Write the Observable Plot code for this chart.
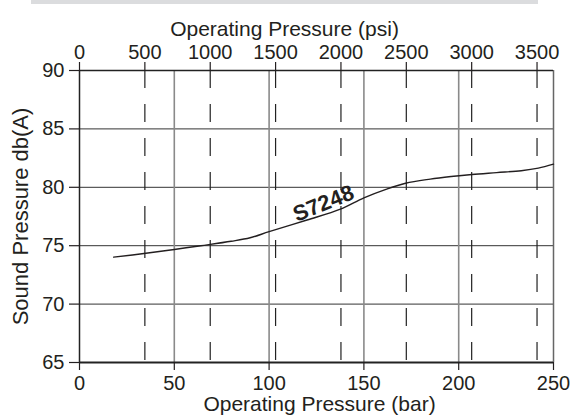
<!DOCTYPE html>
<html>
<head>
<meta charset="utf-8">
<script src="https://cdn.jsdelivr.net/npm/d3@7"></script>
<script src="https://cdn.jsdelivr.net/npm/@observablehq/plot@0.6"></script>
<style>
  html, body { margin: 0; padding: 0; background: #fff; }
  #wrap { position: relative; width: 578px; height: 418px; }
  #band { position: absolute; top: 0; left: 31px; width: 507px; height: 4px; background: #dbdcde; }
</style>
</head>
<body>
<div id="wrap"><div id="band"></div></div>
<script>
// ---- data ----
const barTicks = [0, 50, 100, 150, 200, 250];
const psiTicks = [0, 500, 1000, 1500, 2000, 2500, 3000, 3500];
const dbTicks = [65, 70, 75, 80, 85, 90];
const PSI_TO_BAR = 0.0689476;

const curveBar = [18, 35, 50, 64, 80, 90, 100, 120, 137.6, 150, 162, 172, 185, 196, 207, 220, 233, 242, 250];
const curveDb  = [74.02, 74.35, 74.68, 75.0, 75.38, 75.68, 76.2, 77.2, 78.13, 79.1, 79.85, 80.35, 80.7, 80.92, 81.1, 81.26, 81.42, 81.64, 81.98];

const seriesName = "S7248";
const labelBar = 128.7;
const labelDb = 78.6;

const xTitleBottom = "Operating Pressure (bar)";
const xTitleTop = "Operating Pressure (psi)";
const yTitle = "Sound Pressure db(A)";

// ---- build ----
const curve = curveBar.map((b, i) => ({bar: b, db: curveDb[i]}));
const psiInBar = psiTicks.map(p => p * PSI_TO_BAR);
const ink = "#231f20";

const chart = Plot.plot({
  width: 578,
  height: 418,
  marginLeft: 79,
  marginRight: 25,
  marginTop: 70,
  marginBottom: 56,
  x: {domain: [0, 250]},
  y: {domain: [65, 90]},
  style: {fontFamily: "'Liberation Sans', Arial, sans-serif", fontSize: "20px", color: ink, background: "transparent"},
  marks: [
    // horizontal grid
    Plot.ruleY(dbTicks.slice(1, -1), {stroke: "#333", strokeWidth: 1}),
    // solid vertical grid (bar)
    Plot.ruleX(barTicks.slice(1, -1), {stroke: "#8a8a8a", strokeWidth: 1.6}),
    // dashed vertical grid (psi)
    Plot.ruleX(psiInBar.slice(1), {y1: 90, y2: 65, stroke: "#222", strokeWidth: 1.2, strokeDasharray: "18,16"}),
    // frame
    Plot.ruleX([250], {y1: 90, y2: 65, stroke: "#666", strokeWidth: 1.5}),
    Plot.ruleX([0], {y1: 90, y2: 65, stroke: "#222", strokeWidth: 1.5}),
    Plot.ruleY([90], {x1: 0, x2: 250, stroke: "#222", strokeWidth: 1.5}),
    Plot.ruleY([65], {x1: 0, x2: 250, stroke: "#222", strokeWidth: 2}),
    // axes
    Plot.axisX({anchor: "bottom", ticks: barTicks, tickSize: 8, tickPadding: 5, label: null, fontSize: 20, stroke: ink, strokeWidth: 1.2}),
    Plot.axisX({anchor: "top", ticks: psiInBar, tickFormat: d => String(Math.round(d / PSI_TO_BAR / 100) * 100), tickSize: 9, tickPadding: 3, label: null, fontSize: 20, stroke: ink, strokeWidth: 1.2}),
    Plot.axisY({ticks: dbTicks, tickSize: 10, tickPadding: 5, label: null, fontSize: 20, stroke: ink, strokeWidth: 1.2}),
    // titles
    Plot.text([xTitleTop], {text: d => d, frameAnchor: "top", lineAnchor: "bottom", dy: -35, dx: -32, fontSize: 21, fill: ink}),
    Plot.text([xTitleBottom], {text: d => d, frameAnchor: "bottom", lineAnchor: "bottom", dy: 48, dx: 3, fontSize: 21, fill: ink}),
    Plot.text([yTitle], {text: d => d, frameAnchor: "left", textAnchor: "middle", rotate: -90, lineAnchor: "bottom", dx: -52, fontSize: 22, fill: ink}),
    // curve
    Plot.line(curve, {x: "bar", y: "db", curve: "catmull-rom", stroke: ink, strokeWidth: 1.4}),
    Plot.text([{bar: labelBar, db: labelDb, t: seriesName}], {x: "bar", y: "db", text: "t", rotate: -22, fontWeight: "bold", fontSize: 22, fill: ink})
  ]
});
document.getElementById("wrap").appendChild(chart);
</script>
</body>
</html>
